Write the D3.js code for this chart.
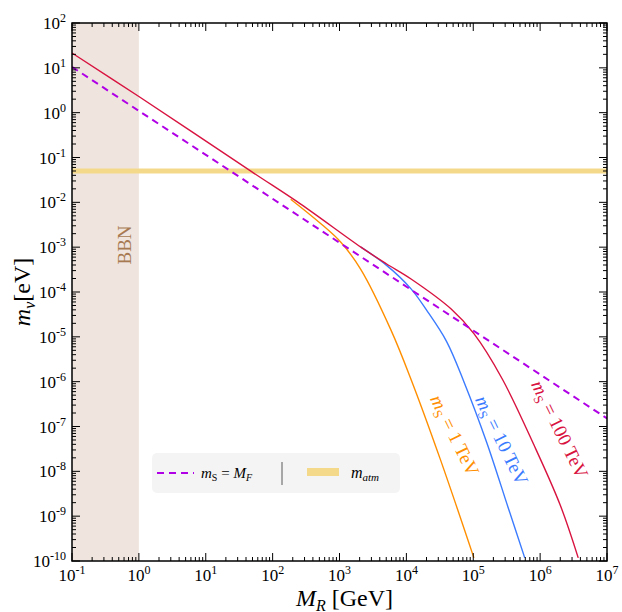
<!DOCTYPE html>
<html><head><meta charset="utf-8">
<script src="https://cdn.jsdelivr.net/npm/d3@7"></script>
<style>body{margin:0;background:#fff}text{font-family:"Liberation Serif","DejaVu Serif",serif}</style>
</head><body><svg id="c" width="622" height="612"></svg>
<script>
// log10 values
const xDecades = [-1,0,1,2,3,4,5,6,7];
const yDecades = [2,1,0,-1,-2,-3,-4,-5,-6,-7,-8,-9,-10];
const dashedX = [-1, 7];
const dashedY = [1.02, -6.82];
const redX = [-1,0,1.68,2.42,3.32,3.7,4.07,4.67,5.01,5.43,5.91,6.3,6.57];
const redY = [1.33,0.36,-1.31,-2.04,-3.0,-3.37,-3.71,-4.38,-4.93,-5.93,-7.42,-8.75,-9.93];
const blueX = [3.32,3.7,4.07,4.3,4.6,4.86,5.2,5.52,5.77];
const blueY = [-3.0,-3.4,-3.93,-4.4,-5.1,-6.0,-7.35,-8.8,-9.93];
const orangeX = [2.27,2.7,3.02,3.32,3.77,4.07,4.5,5.01];
const orangeY = [-1.93,-2.45,-2.89,-3.5,-4.85,-5.95,-7.7,-9.93];
const atm = 0.05;
const bbn = [0.1, 1];

const svg = d3.select("#c");
const L=72,R=607,T=23,B=561;
const x = d3.scaleLog().domain([1e-1,1e7]).range([L,R]);
const y = d3.scaleLog().domain([1e-10,1e2]).range([B,T]);
const g = svg.append("g");
g.append("rect").attr("x",x(bbn[0])).attr("y",T).attr("width",x(bbn[1])-x(bbn[0])).attr("height",B-T).attr("fill","#efe5de");
g.append("line").attr("x1",L).attr("x2",R).attr("y1",y(atm)).attr("y2",y(atm)).attr("stroke","#f5d98a").attr("stroke-width",5);
const line = d3.line().x(d=>x(Math.pow(10,d[0]))).y(d=>y(Math.pow(10,d[1]))).curve(d3.curveCatmullRom.alpha(0.5));
svg.append("clipPath").attr("id","cp").append("rect").attr("x",L).attr("y",T).attr("width",R-L).attr("height",B-T);
const pg = svg.append("g").attr("clip-path","url(#cp)");
function draw(xs,ys,col,dash){pg.append("path").attr("d",line(xs.map((v,i)=>[v,ys[i]]))).attr("fill","none").attr("stroke",col).attr("stroke-width",dash?2:1.4).attr("stroke-dasharray",dash?"7,5":null);}
draw(orangeX,orangeY,"#ff8f00");
draw(blueX,blueY,"#3b7bff");
draw(redX,redY,"#d8133f");
draw(dashedX,dashedY,"#b000e6",true);
const ax = svg.append("g").attr("stroke","#000");
ax.append("rect").attr("x",L).attr("y",T).attr("width",R-L).attr("height",B-T).attr("fill","none").attr("stroke-width",1.5);
xDecades.forEach(d=>{
  const v=Math.pow(10,d), px=x(v);
  ax.append("line").attr("x1",px).attr("x2",px).attr("y1",B).attr("y2",B-8);
  ax.append("line").attr("x1",px).attr("x2",px).attr("y1",T).attr("y2",T+8);
  if(d<7) for(let k=2;k<10;k++){const q=x(k*v);
    ax.append("line").attr("x1",q).attr("x2",q).attr("y1",B).attr("y2",B-4);
    ax.append("line").attr("x1",q).attr("x2",q).attr("y1",T).attr("y2",T+4);}
  const t=svg.append("text").attr("x",px).attr("y",B+20).attr("text-anchor","middle").attr("font-size",17);
  t.append("tspan").text("10"); t.append("tspan").attr("dy",-7).attr("font-size",12).text(d);
});
yDecades.forEach(d=>{
  const v=Math.pow(10,d), py=y(v);
  ax.append("line").attr("x1",L).attr("x2",L+8).attr("y1",py).attr("y2",py);
  ax.append("line").attr("x1",R).attr("x2",R-8).attr("y1",py).attr("y2",py);
  if(d<2) for(let k=2;k<10;k++){const q=y(k*v);
    ax.append("line").attr("x1",L).attr("x2",L+4).attr("y1",q).attr("y2",q);
    ax.append("line").attr("x1",R).attr("x2",R-4).attr("y1",q).attr("y2",q);}
  const t=svg.append("text").attr("x",L-6).attr("y",py+6).attr("text-anchor","end").attr("font-size",17);
  t.append("tspan").text("10"); t.append("tspan").attr("dy",-7).attr("font-size",12).text(d);
});
const xl=svg.append("text").attr("x",x(1e3)+5).attr("y",606).attr("text-anchor","middle").attr("font-size",24);
xl.append("tspan").attr("font-style","italic").text("M");
xl.append("tspan").attr("font-style","italic").attr("font-size",16).attr("dy",5).text("R");
xl.append("tspan").attr("dy",-5).text(" [GeV]");
const yl=svg.append("text").attr("transform",`translate(30,${(T+B)/2}) rotate(-90)`).attr("text-anchor","middle").attr("font-size",24);
yl.append("tspan").attr("font-style","italic").text("m");
yl.append("tspan").attr("font-style","italic").attr("font-size",16).attr("dy",5).text("ν");
yl.append("tspan").attr("dy",-5).text("[eV]");
svg.append("text").attr("transform","translate(131,245) rotate(-90)").attr("text-anchor","middle").attr("font-size",19).attr("fill","#a87a52").text("BBN");
function clab(cx,cy,txt,col){const t=svg.append("text").attr("transform",`translate(${cx},${cy}) rotate(64)`).attr("text-anchor","middle").attr("font-size",19).attr("fill",col);
  t.append("tspan").attr("font-style","italic").text("m"); t.append("tspan").attr("font-size",13).attr("dy",4).text("S");
  t.append("tspan").attr("dy",-4).text(" = "+txt);}
clab(449,438,"1 TeV","#ff8f00");
clab(496,443,"10 TeV","#3b7bff");
clab(554,432,"100 TeV","#d8133f");
const lg=svg.append("g");
lg.append("rect").attr("x",152).attr("y",453).attr("width",248).attr("height",40).attr("rx",5).attr("fill","#f4f4f4");
lg.append("line").attr("x1",157).attr("x2",194).attr("y1",473).attr("y2",473).attr("stroke","#b000e6").attr("stroke-width",2).attr("stroke-dasharray","7,5");
const lt=lg.append("text").attr("x",201).attr("y",478).attr("font-size",15);
lt.append("tspan").attr("font-style","italic").text("m"); lt.append("tspan").attr("font-size",10).attr("dy",3).text("S");
lt.append("tspan").attr("dy",-3).text(" = "); lt.append("tspan").attr("font-style","italic").text("M");
lt.append("tspan").attr("font-style","italic").attr("font-size",10).attr("dy",3).text("F");
lg.append("line").attr("x1",282).attr("x2",282).attr("y1",462).attr("y2",485).attr("stroke","#333").attr("stroke-width",0.8);
lg.append("rect").attr("x",307).attr("y",468).attr("width",32).attr("height",8).attr("fill","#f5d98a");
const l2=lg.append("text").attr("x",351).attr("y",478).attr("font-size",16).attr("font-style","italic");
l2.append("tspan").text("m"); l2.append("tspan").attr("font-size",11).attr("dy",3).text("atm");
</script></body></html>
